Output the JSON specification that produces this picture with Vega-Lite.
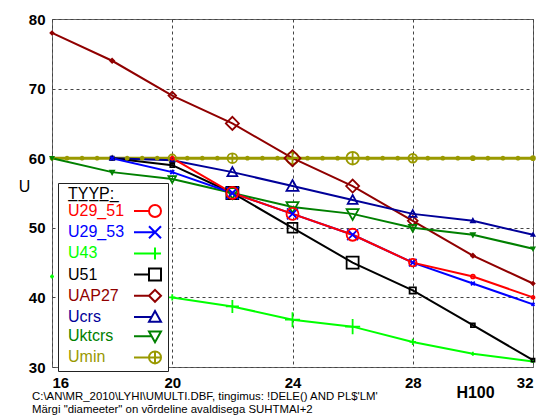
{
  "$schema": "https://vega.github.io/schema/vega-lite/v6.json",
  "width": 481,
  "height": 348,
  "autosize": {"type": "none"},
  "padding": {"left": 52, "top": 19, "right": 8, "bottom": 51},
  "background": "white",
  "title": {
    "text": [
      "C:\\AN\\MR_2010\\LYHI\\UMULTI.DBF, tingimus: !DELE() AND PL$'LM'",
      "Märgi \"diameeter\" on võrdeline avaldisega   SUHTMAI+2"
    ],
    "orient": "bottom",
    "anchor": "start",
    "frame": "group",
    "baseline": "top",
    "font": "Liberation Sans",
    "fontSize": 11.4,
    "fontWeight": "normal",
    "color": "black",
    "lineHeight": 13,
    "offset": -9,
    "dx": -20
  },
  "data": {
    "values": [
      {"H100": 16, "TYYP": "Umin", "U": 60, "SUHTMAI": 0},
      {"H100": 16.5, "TYYP": "Umin", "U": 60, "SUHTMAI": 0},
      {"H100": 17, "TYYP": "Umin", "U": 60, "SUHTMAI": 0},
      {"H100": 17.5, "TYYP": "Umin", "U": 60, "SUHTMAI": 0},
      {"H100": 18, "TYYP": "Umin", "U": 60, "SUHTMAI": 0},
      {"H100": 18.5, "TYYP": "Umin", "U": 60, "SUHTMAI": 0},
      {"H100": 19, "TYYP": "Umin", "U": 60, "SUHTMAI": 0},
      {"H100": 19.5, "TYYP": "Umin", "U": 60, "SUHTMAI": 0},
      {"H100": 20, "TYYP": "Umin", "U": 60, "SUHTMAI": 2},
      {"H100": 20.5, "TYYP": "Umin", "U": 60, "SUHTMAI": 0},
      {"H100": 21, "TYYP": "Umin", "U": 60, "SUHTMAI": 0},
      {"H100": 21.5, "TYYP": "Umin", "U": 60, "SUHTMAI": 0},
      {"H100": 22, "TYYP": "Umin", "U": 60, "SUHTMAI": 3},
      {"H100": 22.5, "TYYP": "Umin", "U": 60, "SUHTMAI": 0},
      {"H100": 23, "TYYP": "Umin", "U": 60, "SUHTMAI": 0},
      {"H100": 23.5, "TYYP": "Umin", "U": 60, "SUHTMAI": 0},
      {"H100": 24, "TYYP": "Umin", "U": 60, "SUHTMAI": 4},
      {"H100": 24.5, "TYYP": "Umin", "U": 60, "SUHTMAI": 0},
      {"H100": 25, "TYYP": "Umin", "U": 60, "SUHTMAI": 0},
      {"H100": 25.5, "TYYP": "Umin", "U": 60, "SUHTMAI": 0},
      {"H100": 26, "TYYP": "Umin", "U": 60, "SUHTMAI": 4.3},
      {"H100": 26.5, "TYYP": "Umin", "U": 60, "SUHTMAI": 0},
      {"H100": 27, "TYYP": "Umin", "U": 60, "SUHTMAI": 0},
      {"H100": 27.5, "TYYP": "Umin", "U": 60, "SUHTMAI": 0},
      {"H100": 28, "TYYP": "Umin", "U": 60, "SUHTMAI": 2.5},
      {"H100": 28.5, "TYYP": "Umin", "U": 60, "SUHTMAI": 0},
      {"H100": 29, "TYYP": "Umin", "U": 60, "SUHTMAI": 0},
      {"H100": 29.5, "TYYP": "Umin", "U": 60, "SUHTMAI": 0},
      {"H100": 30, "TYYP": "Umin", "U": 60, "SUHTMAI": 0.5},
      {"H100": 30.5, "TYYP": "Umin", "U": 60, "SUHTMAI": 0},
      {"H100": 31, "TYYP": "Umin", "U": 60, "SUHTMAI": 0},
      {"H100": 31.5, "TYYP": "Umin", "U": 60, "SUHTMAI": 0},
      {"H100": 32, "TYYP": "Umin", "U": 60, "SUHTMAI": 0.5},

      {"H100": 16, "TYYP": "UAP27", "U": 78, "SUHTMAI": 0},
      {"H100": 18, "TYYP": "UAP27", "U": 74, "SUHTMAI": 0.5},
      {"H100": 20, "TYYP": "UAP27", "U": 69, "SUHTMAI": 2},
      {"H100": 22, "TYYP": "UAP27", "U": 65, "SUHTMAI": 4.5},
      {"H100": 24, "TYYP": "UAP27", "U": 60, "SUHTMAI": 6},
      {"H100": 26, "TYYP": "UAP27", "U": 56, "SUHTMAI": 4.5},
      {"H100": 28, "TYYP": "UAP27", "U": 51, "SUHTMAI": 3},
      {"H100": 30, "TYYP": "UAP27", "U": 46, "SUHTMAI": 0.5},
      {"H100": 32, "TYYP": "UAP27", "U": 42, "SUHTMAI": 0},

      {"H100": 16, "TYYP": "Uktcrs", "U": 60, "SUHTMAI": 0},
      {"H100": 18, "TYYP": "Uktcrs", "U": 58, "SUHTMAI": 0.5},
      {"H100": 20, "TYYP": "Uktcrs", "U": 57, "SUHTMAI": 2},
      {"H100": 22, "TYYP": "Uktcrs", "U": 55, "SUHTMAI": 4},
      {"H100": 24, "TYYP": "Uktcrs", "U": 53, "SUHTMAI": 4},
      {"H100": 26, "TYYP": "Uktcrs", "U": 52, "SUHTMAI": 4},
      {"H100": 28, "TYYP": "Uktcrs", "U": 50, "SUHTMAI": 2},
      {"H100": 30, "TYYP": "Uktcrs", "U": 49, "SUHTMAI": 0.5},
      {"H100": 32, "TYYP": "Uktcrs", "U": 47, "SUHTMAI": 0},

      {"H100": 18, "TYYP": "Ucrs", "U": 60, "SUHTMAI": 0.5},
      {"H100": 20, "TYYP": "Ucrs", "U": 59.7, "SUHTMAI": 0.5},
      {"H100": 22, "TYYP": "Ucrs", "U": 58, "SUHTMAI": 3},
      {"H100": 24, "TYYP": "Ucrs", "U": 56, "SUHTMAI": 4},
      {"H100": 26, "TYYP": "Ucrs", "U": 54, "SUHTMAI": 3},
      {"H100": 28, "TYYP": "Ucrs", "U": 52, "SUHTMAI": 2},
      {"H100": 30, "TYYP": "Ucrs", "U": 51, "SUHTMAI": 0.5},
      {"H100": 32, "TYYP": "Ucrs", "U": 49, "SUHTMAI": 0},

      {"H100": 16, "TYYP": "U43", "U": 43, "SUHTMAI": 0.5},
      {"H100": 18, "TYYP": "U43", "U": null, "SUHTMAI": 0},
      {"H100": 20, "TYYP": "U43", "U": 40, "SUHTMAI": 1.5},
      {"H100": 22, "TYYP": "U43", "U": 38.7, "SUHTMAI": 4.5},
      {"H100": 24, "TYYP": "U43", "U": 36.8, "SUHTMAI": 5.5},
      {"H100": 26, "TYYP": "U43", "U": 35.8, "SUHTMAI": 5.5},
      {"H100": 28, "TYYP": "U43", "U": 33.6, "SUHTMAI": 1.5},
      {"H100": 30, "TYYP": "U43", "U": 31.9, "SUHTMAI": 0.5},
      {"H100": 32, "TYYP": "U43", "U": 30.8, "SUHTMAI": 0},

      {"H100": 18, "TYYP": "U51", "U": 60, "SUHTMAI": 0},
      {"H100": 20, "TYYP": "U51", "U": 59, "SUHTMAI": 0.5},
      {"H100": 22, "TYYP": "U51", "U": 55, "SUHTMAI": 4},
      {"H100": 24, "TYYP": "U51", "U": 50, "SUHTMAI": 3},
      {"H100": 26, "TYYP": "U51", "U": 45, "SUHTMAI": 4},
      {"H100": 28, "TYYP": "U51", "U": 41, "SUHTMAI": 1.5},
      {"H100": 30, "TYYP": "U51", "U": 36, "SUHTMAI": 0.5},
      {"H100": 32, "TYYP": "U51", "U": 31, "SUHTMAI": 0},

      {"H100": 18, "TYYP": "U29_53", "U": 60, "SUHTMAI": 0.5},
      {"H100": 20, "TYYP": "U29_53", "U": 58, "SUHTMAI": 0.5},
      {"H100": 22, "TYYP": "U29_53", "U": 55, "SUHTMAI": 4},
      {"H100": 24, "TYYP": "U29_53", "U": 52, "SUHTMAI": 3.5},
      {"H100": 26, "TYYP": "U29_53", "U": 49, "SUHTMAI": 3.5},
      {"H100": 28, "TYYP": "U29_53", "U": 45, "SUHTMAI": 2},
      {"H100": 30, "TYYP": "U29_53", "U": 42, "SUHTMAI": 0.5},
      {"H100": 32, "TYYP": "U29_53", "U": 39, "SUHTMAI": 0},

      {"H100": 20, "TYYP": "U29_51", "U": 60, "SUHTMAI": 0},
      {"H100": 22, "TYYP": "U29_51", "U": 55, "SUHTMAI": 4},
      {"H100": 24, "TYYP": "U29_51", "U": 52, "SUHTMAI": 4},
      {"H100": 26, "TYYP": "U29_51", "U": 49, "SUHTMAI": 4},
      {"H100": 28, "TYYP": "U29_51", "U": 45, "SUHTMAI": 2},
      {"H100": 30, "TYYP": "U29_51", "U": 43, "SUHTMAI": 0.5},
      {"H100": 32, "TYYP": "U29_51", "U": 40, "SUHTMAI": 0}
    ]
  },
  "encoding": {
    "x": {
      "field": "H100",
      "type": "quantitative",
      "scale": {"domain": [16, 32], "nice": false, "zero": false},
      "axis": {
        "values": [16, 20, 24, 28, 32],
        "title": "H100",
        "titleX": 423,
        "titleY": 25,
        "titleBaseline": "middle",
        "titleAlign": "center",
        "titleFontSize": 16,
        "titleFontWeight": "bold",
        "labelPadding": 8,
        "labelBaseline": "top"
      }
    },
    "y": {
      "field": "U",
      "type": "quantitative",
      "scale": {"domain": [30, 80], "nice": false, "zero": false},
      "axis": {
        "values": [30, 40, 50, 60, 70, 80],
        "title": "U",
        "titleAngle": 0,
        "titleX": -28,
        "titleY": 167,
        "titleAlign": "center",
        "titleBaseline": "middle",
        "titleFontSize": 16,
        "titleFontWeight": "normal",
        "labelPadding": 7
      }
    },
    "color": {
      "field": "TYYP",
      "type": "nominal",
      "scale": {
        "domain": ["U29_51", "U29_53", "U43", "U51", "UAP27", "Ucrs", "Uktcrs", "Umin"],
        "range": ["#ff0000", "#0000ff", "#00ff00", "#000000", "#900000", "#000099", "#008000", "#999900"]
      },
      "legend": {
        "orient": "none",
        "legendX": 6,
        "legendY": 164,
        "title": "T̲Y̲Y̲P̲:̲",
        "titleFont": "Liberation Sans",
        "titleFontSize": 16,
        "titleFontWeight": "normal",
        "titleColor": "black",
        "titlePadding": 1,
        "labelFont": "Liberation Sans",
        "labelFontSize": 16,
        "labelLimit": 200,
        "padding": 3,
        "rowPadding": 1.2,
        "symbolSize": 144,
        "symbolStrokeWidth": 2,
        "fillColor": "white",
        "strokeColor": "#222222",
        "encode": {
          "title": {"update": {"dx": {"value": 7}}},
          "labels": {
            "update": {
              "x": {"value": 7},
              "fill": {"scale": "color", "field": "value"}
            }
          },
          "symbols": {
            "update": {
              "x": {"value": 94},
              "shape": {"signal": "datum.value === 'U29_51' ? 'M-3.5,0L-1,0M-1,0A1,1,0,1,1,1,0A1,1,0,1,1,-1,0Z' : datum.value === 'U29_53' ? 'M-3.5,0L0,0M-1,-1L1,1M-1,1L1,-1' : datum.value === 'U43' ? 'M-3.5,0L1,0M0,-1L0,1' : datum.value === 'U51' ? 'M-3.5,0L-1,0M-1,-1L1,-1L1,1L-1,1Z' : datum.value === 'UAP27' ? 'M-3.5,0L-1,0M-1,0L0,-1L1,0L0,1Z' : datum.value === 'Ucrs' ? 'M-3.5,0L-0.55,0M0,-1L1,0.8L-1,0.8Z' : datum.value === 'Uktcrs' ? 'M-3.5,0L-0.55,0M-1,-0.8L1,-0.8L0,1Z' : 'M-3.5,0L-1,0M-1,0A1,1,0,1,1,1,0A1,1,0,1,1,-1,0ZM-1,0L1,0M0,-1L0,1'"},
              "fill": {"value": "transparent"},
              "strokeWidth": {"value": 2}
            }
          }
        }
      }
    }
  },
  "layer": [
    {
      "mark": {"type": "line", "clip": false},
      "encoding": {
        "strokeWidth": {
          "condition": {"test": "datum.TYYP === 'Umin'", "value": 3},
          "value": 2
        }
      }
    },
    {
      "mark": {"type": "point", "filled": false, "strokeWidth": 1.8, "opacity": 1},
      "encoding": {
        "shape": {
          "field": "TYYP",
          "type": "nominal",
          "scale": {
            "domain": ["Umin", "Uktcrs", "Ucrs", "UAP27", "U51", "U43", "U29_53", "U29_51"],
            "range": [
              "M-1,0A1,1,0,1,1,1,0A1,1,0,1,1,-1,0ZM-1,0L1,0M0,-1L0,1",
              "M-1,-0.8L1,-0.8L0,1Z",
              "M0,-1L1,0.8L-1,0.8Z",
              "M-1,0L0,-1L1,0L0,1Z",
              "M-1,-1L1,-1L1,1L-1,1Z",
              "M-1,0L1,0M0,-1L0,1",
              "M-1,-1L1,1M-1,1L1,-1",
              "M-1,0A1,1,0,1,1,1,0A1,1,0,1,1,-1,0Z"
            ]
          },
          "legend": null
        },
        "size": {
          "field": "SUHTMAI",
          "type": "quantitative",
          "scale": {"type": "pow", "exponent": 1.5, "domain": [0, 6], "range": [9, 256]},
          "legend": null
        }
      }
    }
  ],
  "config": {
    "font": "Liberation Sans",
    "view": {"stroke": "#666666", "strokeWidth": 1},
    "axis": {
      "domain": false,
      "ticks": false,
      "grid": true,
      "gridColor": "#444444",
      "gridDash": [3, 3],
      "gridWidth": 1,
      "gridOpacity": 1,
      "labelFont": "Liberation Sans",
      "labelFontSize": 15,
      "labelFontWeight": "bold",
      "labelColor": "black",
      "titleFont": "Liberation Sans",
      "titleColor": "black"
    }
  }
}
